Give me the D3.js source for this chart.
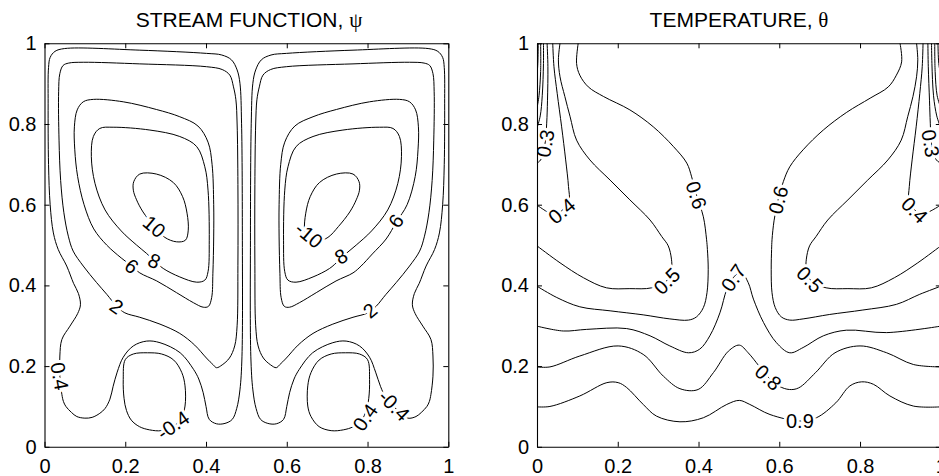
<!DOCTYPE html>
<html><head><meta charset="utf-8">
<script src="https://cdn.jsdelivr.net/npm/d3@7"></script>
<style>
html,body{margin:0;padding:0;background:#fff;overflow:hidden}
svg{display:block}
text{font-family:"Liberation Sans",Arial,Helvetica,sans-serif}
</style></head><body>
<svg id="chart" width="939" height="476"></svg>
<script>
// ---------- axis ticks ----------
const xTickValues = [0, 0.2, 0.4, 0.6, 0.8, 1];
const yTickValues = [0, 0.2, 0.4, 0.6, 0.8, 1];
const tickLabels = ["0", "0.2", "0.4", "0.6", "0.8", "1"];
const panelTitles = ["STREAM FUNCTION, ", "TEMPERATURE, "];
const titleSymbols = ["\u03C8", "\u03B8"];

// ---------- stream function contours (x, y in unit square) ----------
const psiL_0p4 = [[0.043,0.130],[0.038,0.175],[0.038,0.225],[0.043,0.266],[0.063,0.299],[0.082,0.330],[0.089,0.352],[0.084,0.380],[0.072,0.405],[0.055,0.448],[0.034,0.489],[0.022,0.530],[0.014,0.600],[0.010,0.700],[0.009,0.850],[0.010,0.940],[0.014,0.965],[0.026,0.980],[0.050,0.987],[0.236,0.983],[0.401,0.975],[0.439,0.971],[0.463,0.959],[0.477,0.934],[0.484,0.901],[0.488,0.802],[0.490,0.512],[0.489,0.223],[0.484,0.141],[0.476,0.095],[0.465,0.068],[0.447,0.058],[0.426,0.057],[0.408,0.068],[0.400,0.100],[0.393,0.134],[0.382,0.168],[0.369,0.192],[0.336,0.233],[0.286,0.258],[0.253,0.262],[0.220,0.250],[0.195,0.222],[0.180,0.185],[0.170,0.150],[0.162,0.118],[0.150,0.095],[0.137,0.083],[0.118,0.073],[0.100,0.071],[0.080,0.075],[0.067,0.085],[0.053,0.100],[0.047,0.112]];
const psiL_2 = [[0.179,0.348],[0.199,0.332],[0.236,0.321],[0.286,0.304],[0.335,0.281],[0.372,0.252],[0.401,0.220],[0.418,0.203],[0.426,0.196],[0.440,0.203],[0.458,0.220],[0.471,0.250],[0.477,0.300],[0.479,0.450],[0.479,0.650],[0.477,0.800],[0.474,0.860],[0.468,0.892],[0.459,0.921],[0.440,0.935],[0.401,0.942],[0.236,0.949],[0.096,0.953],[0.060,0.951],[0.046,0.945],[0.038,0.925],[0.035,0.880],[0.036,0.760],[0.040,0.660],[0.048,0.580],[0.059,0.522],[0.071,0.485],[0.096,0.448],[0.129,0.407],[0.155,0.377]];
const psiL_6 = [[0.216,0.448],[0.236,0.431],[0.278,0.411],[0.327,0.382],[0.369,0.357],[0.393,0.346],[0.406,0.348],[0.414,0.370],[0.417,0.430],[0.419,0.520],[0.419,0.600],[0.415,0.700],[0.405,0.755],[0.380,0.795],[0.335,0.818],[0.277,0.836],[0.195,0.855],[0.121,0.861],[0.096,0.855],[0.081,0.835],[0.074,0.793],[0.075,0.736],[0.082,0.670],[0.098,0.600],[0.122,0.540],[0.154,0.500],[0.190,0.468]];
const psiL_8 = [[0.272,0.461],[0.294,0.442],[0.335,0.421],[0.377,0.408],[0.397,0.413],[0.405,0.434],[0.408,0.512],[0.405,0.636],[0.397,0.694],[0.377,0.744],[0.335,0.769],[0.261,0.785],[0.170,0.792],[0.137,0.789],[0.121,0.769],[0.116,0.719],[0.125,0.653],[0.150,0.587],[0.190,0.535],[0.228,0.500],[0.253,0.479]];
const psiL_10 = [[0.272,0.546],[0.298,0.519],[0.327,0.508],[0.349,0.512],[0.356,0.537],[0.353,0.579],[0.342,0.620],[0.319,0.655],[0.277,0.676],[0.236,0.676],[0.221,0.657],[0.220,0.636],[0.228,0.612],[0.244,0.582]];
const psiL_m0p4 = [[0.320,0.050],[0.340,0.075],[0.348,0.101],[0.348,0.151],[0.340,0.184],[0.320,0.215],[0.290,0.230],[0.255,0.233],[0.220,0.230],[0.200,0.216],[0.195,0.167],[0.197,0.120],[0.203,0.090],[0.215,0.066],[0.235,0.050],[0.260,0.042],[0.290,0.040]];

const psiR_m0p4 = [[0.957,0.130],[0.962,0.175],[0.962,0.225],[0.957,0.266],[0.937,0.299],[0.918,0.330],[0.911,0.352],[0.916,0.380],[0.928,0.405],[0.945,0.448],[0.966,0.489],[0.978,0.530],[0.986,0.600],[0.990,0.700],[0.991,0.850],[0.990,0.940],[0.986,0.965],[0.974,0.980],[0.950,0.987],[0.764,0.983],[0.599,0.975],[0.561,0.971],[0.537,0.959],[0.523,0.934],[0.516,0.901],[0.512,0.802],[0.510,0.512],[0.511,0.223],[0.516,0.141],[0.524,0.095],[0.535,0.068],[0.553,0.058],[0.574,0.057],[0.592,0.068],[0.600,0.100],[0.607,0.134],[0.618,0.168],[0.631,0.192],[0.664,0.233],[0.714,0.258],[0.747,0.262],[0.780,0.250],[0.805,0.222],[0.820,0.185],[0.832,0.150],[0.845,0.122],[0.862,0.103],[0.880,0.085],[0.900,0.071],[0.920,0.075],[0.933,0.085],[0.947,0.100],[0.953,0.112]];
const psiR_m2 = [[0.821,0.348],[0.801,0.332],[0.764,0.321],[0.714,0.304],[0.665,0.281],[0.628,0.252],[0.599,0.220],[0.582,0.203],[0.574,0.196],[0.560,0.203],[0.542,0.220],[0.529,0.250],[0.523,0.300],[0.521,0.450],[0.521,0.650],[0.523,0.800],[0.526,0.860],[0.532,0.892],[0.541,0.921],[0.560,0.935],[0.599,0.942],[0.764,0.949],[0.904,0.953],[0.940,0.951],[0.954,0.945],[0.962,0.925],[0.965,0.880],[0.964,0.760],[0.960,0.660],[0.952,0.580],[0.941,0.522],[0.929,0.485],[0.904,0.448],[0.871,0.407],[0.845,0.377]];
const psiR_m6 = [[0.784,0.448],[0.764,0.431],[0.722,0.411],[0.673,0.382],[0.631,0.357],[0.607,0.346],[0.594,0.348],[0.586,0.370],[0.583,0.430],[0.581,0.520],[0.581,0.600],[0.585,0.700],[0.595,0.755],[0.620,0.795],[0.665,0.818],[0.723,0.836],[0.805,0.855],[0.879,0.861],[0.904,0.855],[0.919,0.835],[0.926,0.793],[0.925,0.736],[0.918,0.670],[0.898,0.600],[0.872,0.558],[0.846,0.515],[0.812,0.478]];
const psiR_m8 = [[0.728,0.461],[0.706,0.442],[0.665,0.421],[0.623,0.408],[0.603,0.413],[0.595,0.434],[0.592,0.512],[0.595,0.636],[0.603,0.694],[0.623,0.744],[0.665,0.769],[0.739,0.785],[0.830,0.792],[0.863,0.789],[0.879,0.769],[0.884,0.719],[0.875,0.653],[0.850,0.587],[0.810,0.535],[0.772,0.500],[0.747,0.479]];
const psiR_m10 = [[0.728,0.546],[0.702,0.519],[0.673,0.508],[0.651,0.512],[0.644,0.537],[0.647,0.579],[0.658,0.620],[0.681,0.655],[0.723,0.676],[0.764,0.676],[0.779,0.657],[0.780,0.636],[0.772,0.612],[0.756,0.582]];
const psiR_0p4 = [[0.680,0.050],[0.660,0.075],[0.652,0.101],[0.652,0.151],[0.660,0.184],[0.680,0.215],[0.710,0.230],[0.745,0.233],[0.780,0.230],[0.800,0.216],[0.805,0.167],[0.803,0.120],[0.797,0.090],[0.785,0.066],[0.765,0.050],[0.740,0.042],[0.710,0.040]];

const psiLabels = [
  {text:"10", x:0.272, y:0.546, angle:40},
  {text:"8", x:0.272, y:0.461, angle:25},
  {text:"6", x:0.216, y:0.448, angle:38},
  {text:"2", x:0.179, y:0.348, angle:35},
  {text:"0.4", x:0.038, y:0.175, angle:80},
  {text:"-0.4", x:0.318, y:0.054, angle:-35},
  {text:"-10", x:0.655, y:0.525, angle:40},
  {text:"8", x:0.734, y:0.472, angle:-30},
  {text:"6", x:0.870, y:0.560, angle:-55},
  {text:"2", x:0.806, y:0.338, angle:-40},
  {text:"-0.4", x:0.866, y:0.103, angle:45},
  {text:"0.4", x:0.794, y:0.073, angle:-55}
];

// ---------- temperature contours ----------
const theta0p9 = [[0,0.099],[0.032,0.100],[0.106,0.126],[0.173,0.159],[0.201,0.159],[0.222,0.147],[0.263,0.105],[0.296,0.076],[0.354,0.062],[0.412,0.072],[0.470,0.105],[0.501,0.115],[0.527,0.105],[0.577,0.080],[0.651,0.064],[0.692,0.072],[0.740,0.109],[0.775,0.151],[0.804,0.161],[0.833,0.155],[0.874,0.126],[0.932,0.101],[1.0,0.099]];
const theta0p8 = [[0,0.198],[0.032,0.198],[0.106,0.225],[0.201,0.250],[0.263,0.229],[0.313,0.175],[0.354,0.144],[0.399,0.142],[0.437,0.184],[0.474,0.237],[0.501,0.252],[0.523,0.233],[0.550,0.200],[0.573,0.172],[0.600,0.150],[0.625,0.142],[0.648,0.146],[0.690,0.184],[0.738,0.233],[0.800,0.250],[0.866,0.233],[0.932,0.204],[1.0,0.198]];
const theta0p7 = [[0,0.299],[0.065,0.287],[0.123,0.291],[0.222,0.293],[0.280,0.275],[0.329,0.250],[0.375,0.233],[0.403,0.242],[0.428,0.275],[0.453,0.332],[0.470,0.390],[0.486,0.419],[0.505,0.433],[0.523,0.407],[0.536,0.366],[0.561,0.308],[0.593,0.258],[0.626,0.233],[0.659,0.246],[0.709,0.275],[0.766,0.289],[0.866,0.283],[1.0,0.299]];
const theta0p6L = [[0,0.398],[0.049,0.370],[0.106,0.347],[0.181,0.337],[0.263,0.327],[0.329,0.317],[0.375,0.314],[0.395,0.322],[0.412,0.345],[0.421,0.382],[0.424,0.440],[0.422,0.489],[0.420,0.513],[0.412,0.570],[0.395,0.624],[0.383,0.669],[0.371,0.703],[0.338,0.744],[0.288,0.793],[0.230,0.835],[0.165,0.868],[0.127,0.892],[0.106,0.921],[0.098,0.950],[0.102,1.0]];
const theta0p6R = [[1.0,0.398],[0.948,0.378],[0.890,0.353],[0.807,0.339],[0.725,0.328],[0.659,0.317],[0.626,0.314],[0.605,0.322],[0.590,0.345],[0.582,0.382],[0.580,0.440],[0.581,0.489],[0.582,0.513],[0.587,0.560],[0.597,0.612],[0.610,0.657],[0.626,0.694],[0.659,0.736],[0.709,0.785],[0.767,0.829],[0.825,0.864],[0.870,0.892],[0.890,0.921],[0.903,0.954],[0.899,1.0]];
const theta0p5L = [[0,0.498],[0.057,0.456],[0.115,0.419],[0.172,0.394],[0.230,0.392],[0.284,0.394],[0.321,0.411],[0.333,0.440],[0.333,0.465],[0.325,0.498],[0.309,0.521],[0.280,0.562],[0.230,0.612],[0.181,0.661],[0.131,0.711],[0.098,0.760],[0.082,0.818],[0.069,0.868],[0.057,0.917],[0.053,0.959],[0.057,1.0]];
const theta0p5R = [[1.0,0.498],[0.943,0.456],[0.885,0.419],[0.828,0.394],[0.770,0.392],[0.716,0.394],[0.679,0.411],[0.667,0.440],[0.667,0.465],[0.675,0.498],[0.691,0.521],[0.720,0.562],[0.770,0.612],[0.819,0.661],[0.869,0.711],[0.902,0.760],[0.918,0.818],[0.931,0.868],[0.940,0.917],[0.943,0.959],[0.940,1.0]];
const theta0p4L = [[0,0.599],[0.024,0.583],[0.042,0.574],[0.061,0.585],[0.079,0.608],[0.078,0.645],[0.071,0.711],[0.061,0.793],[0.050,0.876],[0.042,0.942],[0.039,1.0]];
const theta0p4R = [[1.0,0.599],[0.976,0.585],[0.955,0.576],[0.935,0.587],[0.921,0.610],[0.922,0.645],[0.929,0.711],[0.939,0.793],[0.948,0.876],[0.954,0.942],[0.956,1.0]];
const theta0p3L = [[0,0.703],[0.009,0.711],[0.020,0.752],[0.024,0.802],[0.026,0.859],[0.027,0.942],[0.025,1.0]];
const theta0p3R = [[1.0,0.703],[0.989,0.711],[0.977,0.752],[0.974,0.802],[0.972,0.859],[0.969,0.942],[0.968,1.0]];
const theta0p2L = [[0,0.790],[0.008,0.820],[0.013,0.870],[0.016,0.950],[0.016,1.0]];
const theta0p2R = [[1.0,0.790],[0.990,0.820],[0.982,0.870],[0.978,0.950],[0.977,1.0]];
const theta0p1L = [[0,0.840],[0.005,0.870],[0.009,0.930],[0.009,1.0]];
const theta0p1R = [[1.0,0.840],[0.991,0.870],[0.986,0.930],[0.985,1.0]];
const theta0p0L = [[0,0.920],[0.002,0.950],[0.003,1.0]];
const theta0p0R = [[1.0,0.920],[0.995,0.950],[0.993,1.0]];

const thetaLabels = [
  {text:"0.3", x:0.020, y:0.752, angle:-80},
  {text:"0.4", x:0.061, y:0.585, angle:-40},
  {text:"0.6", x:0.395, y:0.624, angle:72},
  {text:"0.5", x:0.321, y:0.411, angle:-45},
  {text:"0.7", x:0.486, y:0.419, angle:-55},
  {text:"0.6", x:0.597, y:0.612, angle:-75},
  {text:"0.5", x:0.676, y:0.415, angle:45},
  {text:"0.4", x:0.935, y:0.587, angle:45},
  {text:"0.3", x:0.975, y:0.752, angle:80},
  {text:"0.8", x:0.573, y:0.172, angle:42},
  {text:"0.9", x:0.651, y:0.064, angle:0}
];

// ---------- assemble ----------
const psiLines = [
  {pts:psiL_0p4, closed:true},{pts:psiL_2, closed:true},{pts:psiL_6, closed:true},
  {pts:psiL_8, closed:true},{pts:psiL_10, closed:true},{pts:psiL_m0p4, closed:true},
  {pts:psiR_m0p4, closed:true},{pts:psiR_m2, closed:true},{pts:psiR_m6, closed:true},
  {pts:psiR_m8, closed:true},{pts:psiR_m10, closed:true},{pts:psiR_0p4, closed:true}
];
const thetaLines = [theta0p9, theta0p8, theta0p7, theta0p6L, theta0p6R, theta0p5L, theta0p5R,
  theta0p4L, theta0p4R, theta0p3L, theta0p3R, theta0p2L, theta0p2R, theta0p1L, theta0p1R,
  theta0p0L, theta0p0R].map(p => ({pts:p, closed:false}));

const svg = d3.select("#chart");
const plotSize = 403.8, plotTop = 43.3, plotBottom = 446.8;
const panels = [
  {left:44.5, lines:psiLines, labels:psiLabels, title:0, titleX:249},
  {left:537, lines:thetaLines, labels:thetaLabels, title:1, titleX:739}
];

panels.forEach((p, i) => {
  const x = d3.scaleLinear().domain([0,1]).range([p.left, p.left + plotSize]);
  const y = d3.scaleLinear().domain([0,1]).range([plotBottom, plotTop]);
  const g = svg.append("g");

  const clipId = "clip" + i;
  svg.append("clipPath").attr("id", clipId).append("rect")
    .attr("x", x(0)).attr("y", y(1)).attr("width", x(1)-x(0)).attr("height", y(0)-y(1));

  const cg = g.append("g").attr("clip-path", `url(#${clipId})`);
  cg.selectAll("path.contour").data(p.lines).join("path")
    .attr("class","contour")
    .attr("fill","none").attr("stroke","#000").attr("stroke-width",1)
    .attr("stroke-linejoin","round")
    .attr("d", d => d3.line().x(v => x(v[0])).y(v => y(v[1]))
      .curve(d.closed ? d3.curveCatmullRomClosed.alpha(0.5) : d3.curveCatmullRom.alpha(0.5))(d.pts));

  cg.selectAll("text.clabel").data(p.labels).join("text")
    .attr("class","clabel")
    .attr("transform", d => `translate(${x(d.x)},${y(d.y)}) rotate(${d.angle})`)
    .attr("text-anchor","middle").attr("dy","0.36em")
    .attr("font-size",20)
    .attr("fill","#000")
    .attr("stroke","#fff").attr("stroke-width",6).attr("stroke-linejoin","round")
    .attr("paint-order","stroke")
    .text(d => d.text);

  // axes
  const ax = [
    g.append("g").attr("transform",`translate(0,${y(0)})`)
      .call(d3.axisBottom(x).tickValues(xTickValues).tickFormat(d => tickLabels[xTickValues.indexOf(d)]).tickSize(-5).tickSizeOuter(0).tickPadding(12)),
    g.append("g").attr("transform",`translate(${x(0)},0)`)
      .call(d3.axisLeft(y).tickValues(yTickValues).tickFormat(d => tickLabels[yTickValues.indexOf(d)]).tickSize(-5).tickSizeOuter(0).tickPadding(8)),
    g.append("g").attr("transform",`translate(0,${y(1)})`)
      .call(d3.axisTop(x).tickValues(xTickValues).tickFormat("").tickSize(-5).tickSizeOuter(0)),
    g.append("g").attr("transform",`translate(${x(1)},0)`)
      .call(d3.axisRight(y).tickValues(yTickValues).tickFormat("").tickSize(-5).tickSizeOuter(0))
  ];
  ax.forEach(a => {
    a.selectAll("path.domain").attr("stroke","#000").attr("stroke-width",1.1);
    a.selectAll(".tick line").attr("stroke","#000").attr("stroke-width",1);
    a.selectAll(".tick text").attr("font-size",20).attr("fill","#000")
      .attr("font-family",'"Liberation Sans",Arial,Helvetica,sans-serif');
  });

  const t = svg.append("text").attr("x", p.titleX).attr("y", 26.7)
    .attr("text-anchor","middle").attr("font-size",21).attr("fill","#000");
  t.append("tspan").text(panelTitles[p.title]);
  t.append("tspan").attr("font-family",'"Liberation Serif","DejaVu Serif",serif').text(titleSymbols[p.title]);
});
</script>
</body></html>
